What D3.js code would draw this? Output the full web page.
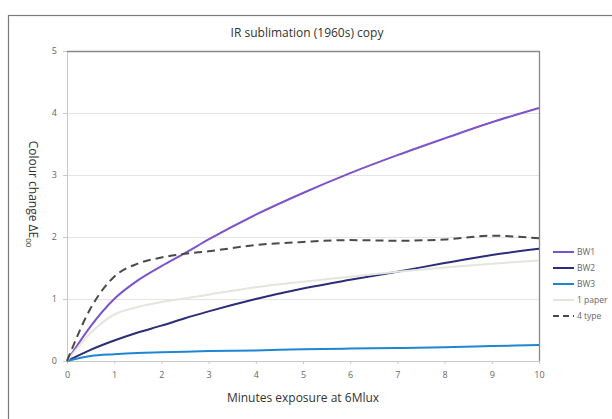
<!DOCTYPE html>
<html><head><meta charset="utf-8">
<script src="https://cdn.jsdelivr.net/npm/d3@7/dist/d3.min.js"></script>
<style>body{margin:0;background:#fff}svg{display:block}text{font-family:"Open Sans","Liberation Sans",sans-serif}</style>
</head><body><svg id="c" width="612" height="419"></svg>
<script>
const xs   = [0, 0.5, 1, 1.5, 2, 2.5, 3, 4, 5, 6, 7, 8, 9, 10];
const bw1  = [0, 0.56, 1.0, 1.3, 1.53, 1.74, 1.96, 2.36, 2.71, 3.03, 3.32, 3.59, 3.85, 4.08];
const bw2  = [0, 0.18, 0.33, 0.46, 0.57, 0.69, 0.8, 1.0, 1.17, 1.31, 1.44, 1.58, 1.71, 1.81];
const bw3  = [0, 0.08, 0.11, 0.13, 0.14, 0.15, 0.16, 0.17, 0.19, 0.2, 0.21, 0.22, 0.24, 0.26];
const paper= [0, 0.45, 0.75, 0.87, 0.95, 1.01, 1.07, 1.19, 1.28, 1.36, 1.44, 1.51, 1.57, 1.62];
const type4= [0, 0.85, 1.36, 1.57, 1.67, 1.73, 1.77, 1.87, 1.92, 1.95, 1.94, 1.96, 2.02, 1.98];
const seriesNames = ["BW1","BW2","BW3","1 paper","4 type"];
const xTicks = [0,1,2,3,4,5,6,7,8,9,10];
const yTicks = [0,1,2,3,4,5];
const title = "IR sublimation (1960s) copy";
const xTitle = "Minutes exposure at 6Mlux";

const series = [
  {name:seriesNames[0], vals:bw1, color:"#7e52c8", w:2, dash:null},
  {name:seriesNames[1], vals:bw2, color:"#2b2d78", w:2, dash:null},
  {name:seriesNames[2], vals:bw3, color:"#1f86d3", w:2, dash:null},
  {name:seriesNames[3], vals:paper, color:"#e3e6de", w:2, dash:null},
  {name:seriesNames[4], vals:type4, color:"#4a4a4a", w:2, dash:"8,5"}
];

const svg = d3.select("#c");
const L=67, R=539, T=51, B=361;
const x = d3.scaleLinear().domain([0,10]).range([L,R]);
const y = d3.scaleLinear().domain([0,5]).range([B,T]);

// outer frame
svg.append("rect").attr("x",8.5).attr("y",15.5).attr("width",640).attr("height",440)
  .attr("fill","none").attr("stroke","#7a7a7a").attr("stroke-width",1.2);

// gridlines
svg.append("g").selectAll("line").data(yTicks.filter(d=>d>0&&d<5)).join("line")
  .attr("x1",L).attr("x2",R).attr("y1",d=>y(d)+0.5).attr("y2",d=>y(d)+0.5)
  .attr("stroke","#e4e4e4").attr("stroke-width",1);

// axes
const xAxis = svg.append("g").attr("transform",`translate(0,${B})`)
  .call(d3.axisBottom(x).tickValues(xTicks).tickSize(3).tickPadding(8).tickFormat(d3.format("d")));
const yAxis = svg.append("g").attr("transform",`translate(${L},0)`)
  .call(d3.axisLeft(y).tickValues(yTicks).tickSize(4).tickPadding(6).tickFormat(d3.format("d")));
[xAxis,yAxis].forEach(g=>{
  g.select(".domain").attr("stroke","#c8c8c8");
  g.selectAll(".tick line").attr("stroke","#c8c8c8");
  g.selectAll("text").attr("fill","#666").style("font-size","9px");
});
// plot border top/right
svg.append("path").attr("d",`M${L},${T+0.5}H${R+0.5}V${B}`).attr("fill","none")
  .attr("stroke","#888").attr("stroke-width",1.3);

// lines
const line = d3.line().x((d,i)=>x(xs[i])).y(d=>y(d)).curve(d3.curveMonotoneX);
series.forEach(s=>{
  svg.append("path").datum(s.vals).attr("d",line).attr("fill","none")
    .attr("stroke",s.color).attr("stroke-width",s.w)
    .attr("stroke-dasharray",s.dash);
});

// title
svg.append("text").attr("x",307).attr("y",37).attr("text-anchor","middle")
  .style("font-size","12px").attr("fill","#333").text(title);
svg.append("text").attr("x",303).attr("y",402).attr("text-anchor","middle")
  .style("font-size","12px").attr("fill","#333").text(xTitle);
const yt = svg.append("text").attr("transform","translate(29,194) rotate(90)")
  .attr("text-anchor","middle").style("font-size","12px").attr("fill","#333");
yt.append("tspan").text("Colour change ΔE");
yt.append("tspan").attr("dy",3).style("font-size","8px").text("00");

// legend
const lg = svg.append("g");
series.forEach((s,i)=>{
  const yy = 252 + i*16;
  lg.append("line").attr("x1",553).attr("x2",574).attr("y1",yy).attr("y2",yy)
    .attr("stroke",s.color).attr("stroke-width",2).attr("stroke-dasharray",s.dash?"6,4":null);
  lg.append("text").attr("x",577).attr("y",yy+3).style("font-size","8.5px")
    .attr("fill","#666").text(s.name);
});
</script></body></html>
